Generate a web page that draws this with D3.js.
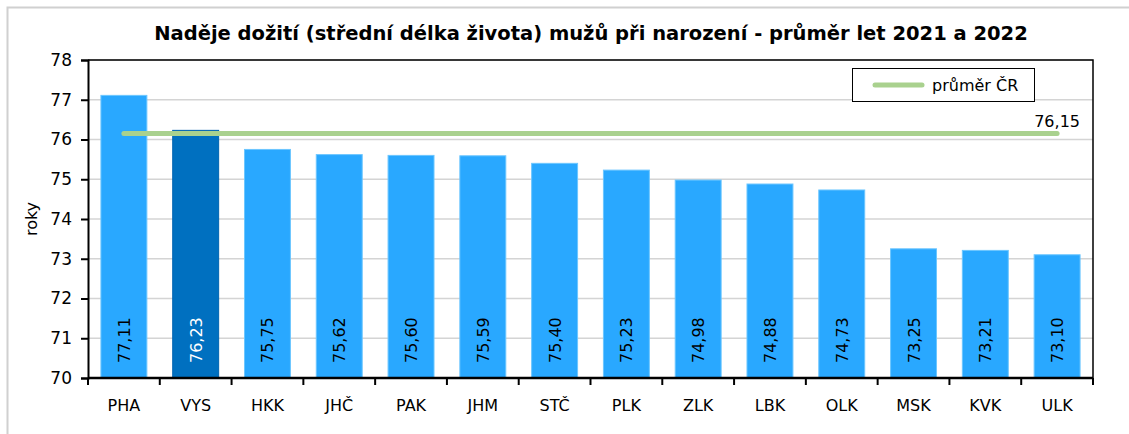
<!DOCTYPE html>
<html>
<head>
<meta charset="utf-8">
<script src="https://cdn.jsdelivr.net/npm/d3@7"></script>
<style>
  body { margin: 0; background: #fff; }
  svg { display: block; font-family: "DejaVu Sans", sans-serif; }
</style>
</head>
<body>
<svg id="chart"></svg>
<script>
const regions = ["PHA", "VYS", "HKK", "JHČ", "PAK", "JHM", "STČ", "PLK", "ZLK", "LBK", "OLK", "MSK", "KVK", "ULK"];
const lifeExp = [77.11, 76.23, 75.75, 75.62, 75.60, 75.59, 75.40, 75.23, 74.98, 74.88, 74.73, 73.25, 73.21, 73.10];
const highlight = ["VYS"];
const czAverage = 76.15;
const yTicks = [70, 71, 72, 73, 74, 75, 76, 77, 78];

const W = 1129, H = 434;
const margin = { top: 60, right: 36, bottom: 56, left: 88 };

const svg = d3.select("#chart").attr("width", W).attr("height", H);

// outer frame
svg.append("rect")
  .attr("x", 7.5).attr("y", 7.5)
  .attr("width", W).attr("height", H)
  .attr("fill", "none").attr("stroke", "#d0d0d0").attr("stroke-width", 2);

const x = d3.scaleBand().domain(regions)
  .range([margin.left, W - margin.right])
  .paddingInner(0.36).paddingOuter(0.18);
const y = d3.scaleLinear().domain([70, 78]).range([H - margin.bottom, margin.top]);

const fmt = v => v.toFixed(2).replace(".", ",");

// gridlines
svg.append("g").selectAll("line")
  .data(yTicks.slice(1))
  .join("line")
  .attr("x1", margin.left).attr("x2", W - margin.right)
  .attr("y1", d => y(d)).attr("y2", d => y(d))
  .attr("stroke", "#d4d4d4").attr("stroke-width", 1.5);

// bars
svg.append("g").selectAll("rect")
  .data(regions)
  .join("rect")
  .attr("x", d => x(d))
  .attr("y", (d, i) => y(lifeExp[i]))
  .attr("width", x.bandwidth())
  .attr("height", (d, i) => y(70) - y(lifeExp[i]))
  .attr("fill", d => highlight.includes(d) ? "#0070c0" : "#29a8ff")
  .attr("stroke", d => highlight.includes(d) ? "#0064b0" : "#6cc6ff")
  .attr("stroke-width", 1);

// bar value labels
svg.append("g").selectAll("text")
  .data(regions)
  .join("text")
  .attr("transform", d => `translate(${x(d) + x.bandwidth() / 2 + 6},${y(70) - 15}) rotate(-90)`)
  .attr("font-size", 16)
  .attr("fill", d => highlight.includes(d) ? "#fff" : "#000")
  .text((d, i) => fmt(lifeExp[i]));

// plot frame (top/right)
svg.append("path")
  .attr("d", `M${margin.left},${margin.top}H${W - margin.right}V${H - margin.bottom}`)
  .attr("fill", "none").attr("stroke", "#000").attr("stroke-width", 1.5);

// y axis
const yAxis = svg.append("g")
  .attr("transform", `translate(${margin.left},0)`)
  .call(d3.axisLeft(y).tickValues(yTicks).tickSize(7).tickPadding(9).tickFormat(d3.format("d")));
yAxis.select(".domain").attr("stroke", "#000").attr("stroke-width", 2);
yAxis.selectAll(".tick line").attr("stroke", "#000").attr("stroke-width", 2);
yAxis.selectAll("text").attr("font-size", 17).attr("font-family", "DejaVu Sans").attr("fill", "#000");

// x axis with ticks on category boundaries
const xAxis = svg.append("g")
  .attr("transform", `translate(0,${H - margin.bottom})`);
xAxis.append("line")
  .attr("x1", margin.left).attr("x2", W - margin.right)
  .attr("stroke", "#000").attr("stroke-width", 2.5);
const bounds = d3.range(regions.length + 1).map(i => margin.left + i * (W - margin.right - margin.left) / regions.length);
xAxis.selectAll("line.tk")
  .data(bounds)
  .join("line").attr("class", "tk")
  .attr("x1", d => d).attr("x2", d => d)
  .attr("y1", 0).attr("y2", 7)
  .attr("stroke", "#000").attr("stroke-width", 2);
xAxis.selectAll("text")
  .data(regions)
  .join("text")
  .attr("x", d => x(d) + x.bandwidth() / 2)
  .attr("y", 33)
  .attr("text-anchor", "middle")
  .attr("font-size", 16)
  .text(d => d);

// average line
const first = regions[0], last = regions[regions.length - 1];
svg.append("line")
  .attr("x1", x(first) + x.bandwidth() / 2)
  .attr("x2", x(last) + x.bandwidth() / 2)
  .attr("y1", y(czAverage)).attr("y2", y(czAverage))
  .attr("stroke", "#a9d18e").attr("stroke-width", 5)
  .attr("stroke-linecap", "round");
svg.append("text")
  .attr("x", x(last) + x.bandwidth() / 2)
  .attr("y", y(czAverage) - 7)
  .attr("text-anchor", "middle")
  .attr("font-size", 16)
  .text(fmt(czAverage));

// y label
svg.append("text")
  .attr("transform", `translate(37,${(margin.top + H - margin.bottom) / 2}) rotate(-90)`)
  .attr("text-anchor", "middle")
  .attr("font-size", 16)
  .text("roky");

// title
svg.append("text")
  .attr("x", 591).attr("y", 40)
  .attr("text-anchor", "middle")
  .attr("font-size", 19.5).attr("font-weight", "bold")
  .text("Naděje dožití (střední délka života) mužů při narození - průměr let 2021 a 2022");

// legend
const lg = svg.append("g").attr("transform", "translate(852,68)");
lg.append("rect").attr("x", 0.5).attr("y", 0.5).attr("width", 182).attr("height", 33)
  .attr("fill", "#fff").attr("stroke", "#000").attr("stroke-width", 1);
lg.append("line").attr("x1", 23).attr("x2", 70).attr("y1", 17).attr("y2", 17)
  .attr("stroke", "#a9d18e").attr("stroke-width", 5).attr("stroke-linecap", "round");
lg.append("text").attr("x", 80).attr("y", 23).attr("font-size", 16).text("průměr ČR");
</script>
</body>
</html>
